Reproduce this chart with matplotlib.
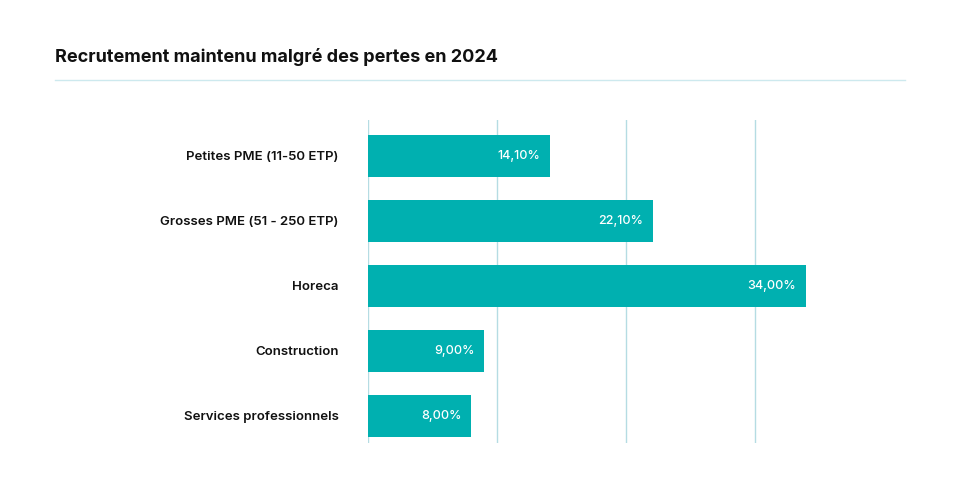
import matplotlib
matplotlib.use('Agg')
import matplotlib.pyplot as plt
from matplotlib.lines import Line2D

# data
categories = ["Petites PME (11-50 ETP)",
              "Grosses PME (51 - 250 ETP)",
              "Horeca",
              "Construction",
              "Services professionnels"]
values = [14.1, 22.1, 34.0, 9.0, 8.0]
title = "Recrutement maintenu malgré des pertes en 2024"

barColor = "#00B0B0"
gridColor = "#B5DCE3"

plt.rcParams['font.family'] = ['Inter', 'DejaVu Sans']

fig = plt.figure(figsize = (9.6, 4.8), dpi = 100)
# left, bottom, width, height (figure fraction)
ax = fig.add_axes([368 / 960, 1 - 443 / 480, (819 - 368) / 960, (443 - 120) / 480])

ypos = list(range(len(categories)))
ax.barh(ypos, values, height = 0.646, color = barColor, zorder = 2)

for y, v in zip(ypos, values):
    label = ("%.2f%%" % v).replace(".", ",")
    ax.text(v - 0.75, y, label, ha = 'right', va = 'center',
            color = 'white', fontsize = 9, fontweight = 'medium', zorder = 3)

ax.set_xlim(0, 35)
ax.set_ylim(4.42, -0.55)
ax.set_xticks([0, 10, 20, 30])
ax.set_xticklabels([])
ax.set_yticks(ypos)
ax.set_yticklabels(categories, fontsize = 9.5, fontweight = 'semibold', color = '#111111')
ax.tick_params(axis = 'both', length = 0)
ax.tick_params(axis = 'y', pad = 21)
ax.grid(axis = 'x', color = gridColor, linewidth = 1.0, zorder = 1)
for s in ax.spines.values():
    s.set_visible(False)

fig.text(55 / 960, 1 - 57 / 480, title, fontsize = 13, fontweight = 'bold',
         color = '#111111', ha = 'left', va = 'center')
fig.add_artist(Line2D([55 / 960, 905 / 960], [1 - 80 / 480, 1 - 80 / 480],
                      color = "#CDE9EE", linewidth = 1.0))

fig.savefig("out.png", dpi = 100, facecolor = 'white')
